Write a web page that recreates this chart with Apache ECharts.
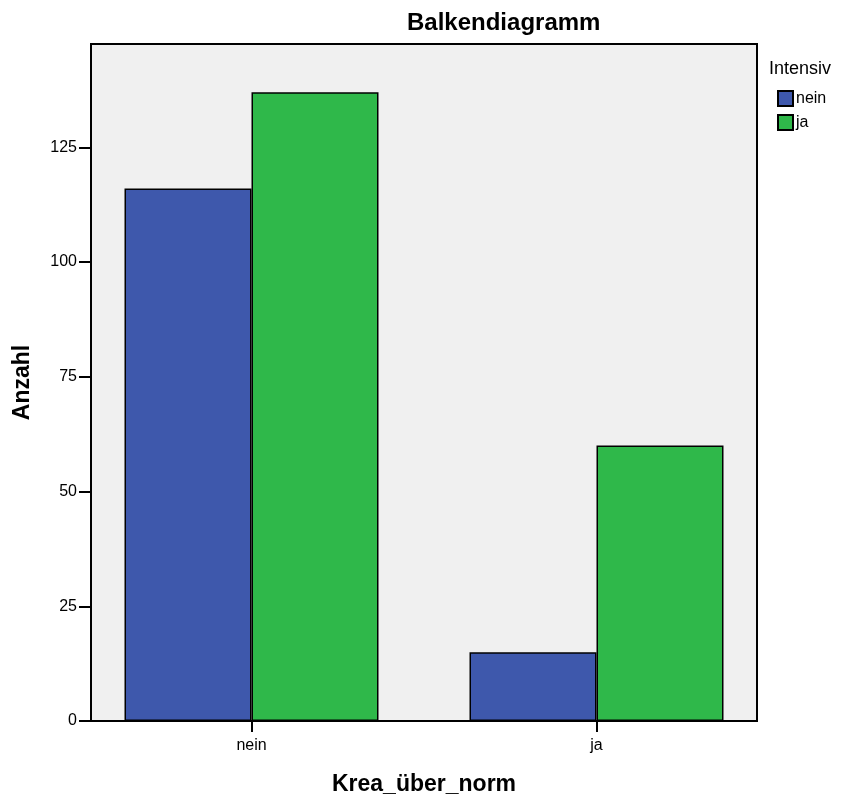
<!DOCTYPE html>
<html>
<head>
<meta charset="utf-8">
<script src="https://cdn.jsdelivr.net/npm/echarts@6/dist/echarts.min.js"></script>
<style>
  html, body { margin: 0; padding: 0; background: #fff; }
  #chart { width: 843px; height: 798px; }
</style>
</head>
<body>
<div id="chart"></div>
<script>
  // Krea_über_norm categories, grouped by Intensiv
  const categories = ['nein', 'ja']
  const seriesNames = ['nein', 'ja']
  const valuesNein = [116, 15]
  const valuesJa = [137, 60]
  const yTicks = [0, 25, 50, 75, 100, 125]

  const colors = ['#3e58ac', '#2fb84a']
  const font = 'Liberation Sans, Arial, sans-serif'

  const chart = echarts.init(document.getElementById('chart'))

  const option = {
    animation: false,
    textStyle: { fontFamily: font },
    title: [
      {
        text: 'Balkendiagramm',
        left: 402,
        top: 6,
        textStyle: { fontSize: 24, fontWeight: 'bold', color: '#000', fontFamily: font }
      },
      {
        text: 'Intensiv',
        left: 764,
        top: 55,
        textStyle: { fontSize: 18, fontWeight: 'normal', color: '#000', fontFamily: font }
      }
    ],
    legend: {
      data: seriesNames,
      orient: 'vertical',
      left: 772,
      top: 85,
      icon: 'rect',
      itemWidth: 15,
      itemHeight: 15,
      itemGap: 7,
      textStyle: { fontSize: 16, color: '#000', padding: [0, 0, 0, -2] }
    },
    graphic: [
      {
        type: 'rect',
        z: -1,
        shape: { x: 91, y: 44, width: 666, height: 677 },
        style: { fill: '#f0f0f0', stroke: '#000', lineWidth: 2 }
      }
    ],
    grid: {
      left: 79,
      width: 690,
      top: 44,
      height: 677,
      containLabel: false,
      outerBoundsMode: 'none'
    },
    xAxis: {
      type: 'category',
      data: categories,
      name: 'Krea_über_norm',
      nameLocation: 'middle',
      nameGap: 52,
      nameTextStyle: { fontSize: 23, fontWeight: 'bold', color: '#000' },
      axisLine: { show: false },
      axisTick: { show: true, alignWithLabel: true, length: 11, lineStyle: { color: '#000', width: 2 } },
      axisLabel: { fontSize: 16, color: '#000', margin: 17 }
    },
    yAxis: {
      type: 'value',
      min: 0,
      max: 147.5,
      interval: 25,
      offset: -12,
      name: 'Anzahl',
      nameLocation: 'middle',
      nameGap: 57,
      nameTextStyle: { fontSize: 23, fontWeight: 'bold', color: '#000' },
      axisLine: { show: true, lineStyle: { color: '#000', width: 2 } },
      axisTick: { show: true, length: 12, customValues: yTicks, lineStyle: { color: '#000', width: 2 } },
      axisLabel: { fontSize: 16, color: '#000', margin: 14, customValues: yTicks },
      splitLine: { show: false }
    },
    series: [
      {
        name: seriesNames[0],
        type: 'bar',
        data: valuesNein,
        barWidth: 127,
        barGap: '0%',
        itemStyle: { color: colors[0], borderColor: '#000', borderWidth: 1.5 }
      },
      {
        name: seriesNames[1],
        type: 'bar',
        data: valuesJa,
        barWidth: 127,
        barGap: '0%',
        itemStyle: { color: colors[1], borderColor: '#000', borderWidth: 1.5 }
      }
    ]
  }

  chart.setOption(option)
</script>
</body>
</html>
